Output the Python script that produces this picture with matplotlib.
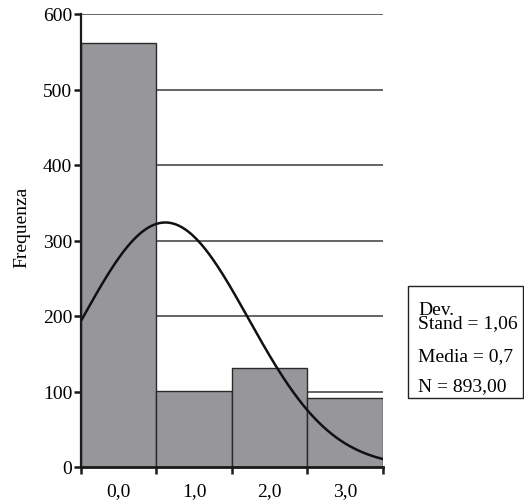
import numpy as np
import matplotlib
matplotlib.use("Agg")
import matplotlib.pyplot as plt

# ---- data ----
categories = [0, 1, 2, 3]
tick_labels = ["0,0", "1,0", "2,0", "3,0"]
counts = [562, 101, 131, 91]
y_ticks = [0, 100, 200, 300, 400, 500, 600]
n_total = 893
curve_mean = 0.62      # centre of the drawn normal curve (axis units)
curve_sd = 1.10        # spread of the drawn normal curve
stats_lines = ["Dev.\nStand = 1,06", "Media = 0,7", "N = 893,00"]

plt.rcParams['font.family'] = ['Liberation Serif', 'DejaVu Serif']

W, H = 524, 502
fig = plt.figure(figsize=(W / 100, H / 100), dpi=100)
ax = fig.add_axes([80.7 / W, 1 - 468 / H, (383 - 80.7) / W, (468 - 15) / H])

# gridlines
for yv in y_ticks[1:]:
    ax.axhline(yv, color="#3a3a3a", lw=1.1, zorder=1)

# bars
ax.bar(categories, counts, width=1.0, color="#97979b", edgecolor="#2a2a2a",
       linewidth=1.0, zorder=2)

# normal curve
xs = np.linspace(-0.5, 3.5, 400)
ys = n_total * 1.0 / (curve_sd * np.sqrt(2 * np.pi)) * np.exp(-(xs - curve_mean) ** 2 / (2 * curve_sd ** 2))
ax.plot(xs, ys, color="#111111", lw=1.8, zorder=3)

ax.set_xlim(-0.5, 3.5)
ax.set_ylim(0, 600)

for s in ["top", "right"]:
    ax.spines[s].set_visible(False)
ax.spines["left"].set_linewidth(1.6)
ax.spines["bottom"].set_linewidth(2.0)
ax.spines["left"].set_color("#1a1a1a")
ax.spines["bottom"].set_color("#1a1a1a")
ax.spines["left"].set_zorder(4)
ax.spines["bottom"].set_zorder(4)

ax.set_yticks(y_ticks)
ax.set_yticklabels([str(v) for v in y_ticks], fontsize=14)
ax.tick_params(axis="y", direction="out", length=5, width=1.8, pad=1, color="#1a1a1a")

edges = [c - 0.5 for c in categories] + [categories[-1] + 0.5]
ax.set_xticks(edges)
ax.set_xticklabels([""] * len(edges))
ax.tick_params(axis="x", which="major", direction="out", length=5, width=1.8, color="#1a1a1a")
ax.set_xticks(categories, minor=True)
ax.set_xticklabels(tick_labels, minor=True, fontsize=14)
ax.tick_params(axis="x", which="minor", length=0, pad=11)

fig.text(22 / W, 1 - 227 / H, "Frequenza", rotation=90, ha="center", va="center", fontsize=14)

# stats box
bx0, bx1, by0, by1 = 408, 523, 287, 399
fig.patches.append(matplotlib.patches.Rectangle((bx0 / W, 1 - by1 / H), (bx1 - bx0) / W, (by1 - by0) / H,
                                                 transform=fig.transFigure, fill=False,
                                                 edgecolor="#222222", lw=1.0))
fig.text(418 / W, 1 - 317 / H, stats_lines[0], ha="left", va="center", fontsize=14, linespacing=0.75)
fig.text(418 / W, 1 - 357 / H, stats_lines[1], ha="left", va="center", fontsize=14)
fig.text(418 / W, 1 - 387 / H, stats_lines[2], ha="left", va="center", fontsize=14)

fig.savefig("out.png", dpi=100)
